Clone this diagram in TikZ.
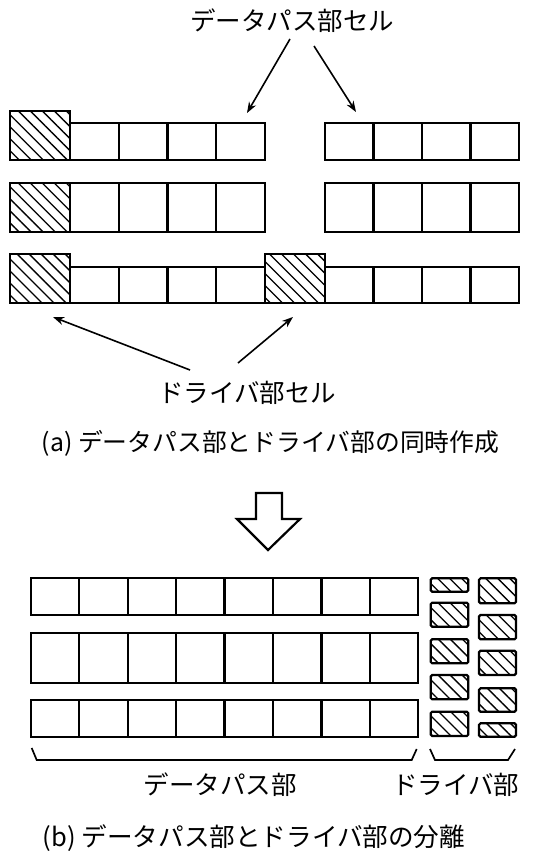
\documentclass[tikz,border=0pt]{standalone}
\usepackage{fontspec}
\newfontfamily\jpfont{Noto Sans CJK JP}
\usetikzlibrary{patterns.meta,arrows.meta}
\newcommand\cellrow[5]{%
  \draw[box] (#1,#2) rectangle (#5,#3);
  \foreach \xx in {#4} \draw[box] (\xx,#2) -- (\xx,#3);
}
\begin{document}
\begin{tikzpicture}[x=1pt,y=-1pt,
  box/.style={draw=black,line width=2.2pt},
  hatchbox/.style={draw=black,line width=2.2pt,pattern={Lines[angle=-45,distance=8.5pt,line width=1.3pt]}},
  drvbox/.style={hatchbox,rounded corners=1.5pt},
  arr/.style={-{Stealth[length=11pt,width=8pt]},line width=1.6pt},
  brace/.style={line width=1.7pt},
  lbl/.style={font=\jpfont\fontsize{25.5}{30}\selectfont,inner sep=0pt},
  capa/.style={font=\jpfont\fontsize{24.8}{30}\selectfont,inner sep=0pt},
  capb/.style={font=\jpfont\fontsize{25.6}{30}\selectfont,inner sep=0pt}]
\useasboundingbox (0,0) rectangle (535,862);
% ---------- (a) ----------
\node[lbl] (dpcell) at (292,21) {データパス部セル};
% row 1
\cellrow{70}{123.3}{160}{118.75,167.5,216.25}{265}
\cellrow{325}{123.3}{160}{373.5,422,470.5}{519}
\draw[hatchbox] (10,110.7) rectangle (70,160);
% row 2
\cellrow{70}{183.3}{231.7}{118.75,167.5,216.25}{265}
\cellrow{325}{183.3}{231.7}{373.5,422,470.5}{519}
\draw[hatchbox] (10,183.3) rectangle (70,231.7);
% row 3
\cellrow{70}{266.7}{303.3}{118.75,167.5,216.25}{265}
\cellrow{325}{266.7}{303.3}{373.5,422,470.5}{519}
\draw[hatchbox] (10,254) rectangle (70,303.3);
\draw[hatchbox] (265,254) rectangle (325,303.3);
% arrows
\coordinate (t1s) at (290,39);  \coordinate (t1e) at (247,113);
\coordinate (t2s) at (314,46);  \coordinate (t2e) at (356,112);
\draw[arr] (t1s) -- (t1e);
\draw[arr] (t2s) -- (t2e);
\node[lbl] (drvcell) at (247,393) {ドライバ部セル};
\coordinate (b1s) at (190,370); \coordinate (b1e) at (53,317);
\coordinate (b2s) at (238,363); \coordinate (b2e) at (293,317);
\draw[arr] (b1s) -- (b1e);
\draw[arr] (b2s) -- (b2e);
\node[capa] (capa) at (270.5,443) {(a) データパス部とドライバ部の同時作成};
% ---------- hollow arrow ----------
\draw[line width=2.2pt,line join=miter] (256,493) -- (282,493) -- (282,519) -- (300,519)
  -- (268,550) -- (237,519) -- (256,519) -- cycle;
% ---------- (b) ----------
\cellrow{30.7}{578.3}{615}{79.15,127.6,176.05,224.5,272.95,321.4,369.85}{418.3}
\cellrow{30.7}{632.7}{682.7}{79.15,127.6,176.05,224.5,272.95,321.4,369.85}{418.3}
\cellrow{30.7}{700}{736.7}{79.15,127.6,176.05,224.5,272.95,321.4,369.85}{418.3}
% driver cells
\draw[drvbox] (430.7,578.3) rectangle (468.3,591.7);
\draw[drvbox] (430.7,602.7) rectangle (468.3,626.7);
\draw[drvbox] (430.7,639.3) rectangle (468.3,663.3);
\draw[drvbox] (430.7,675) rectangle (468.3,699.3);
\draw[drvbox] (430.7,711.7) rectangle (468.3,736);
\draw[drvbox] (479,578.3) rectangle (516,603.3);
\draw[drvbox] (479,615) rectangle (516,639.3);
\draw[drvbox] (479,650.7) rectangle (516,675);
\draw[drvbox] (479,688.3) rectangle (516,711.7);
\draw[drvbox] (479,723.3) rectangle (516,736.7);
% braces
\draw[brace] (31.7,748) -- (36.7,760) -- (411.7,760) -- (416.7,749);
\draw[brace] (430,749) -- (435,760) -- (508,760) -- (515,749);
\node[lbl] (dplbl) at (220,785) {データパス部};
\node[lbl] (drvlbl) at (455.5,785) {ドライバ部};
\node[capb] (capb) at (254,838) {(b) データパス部とドライバ部の分離};
\end{tikzpicture}
\end{document}
